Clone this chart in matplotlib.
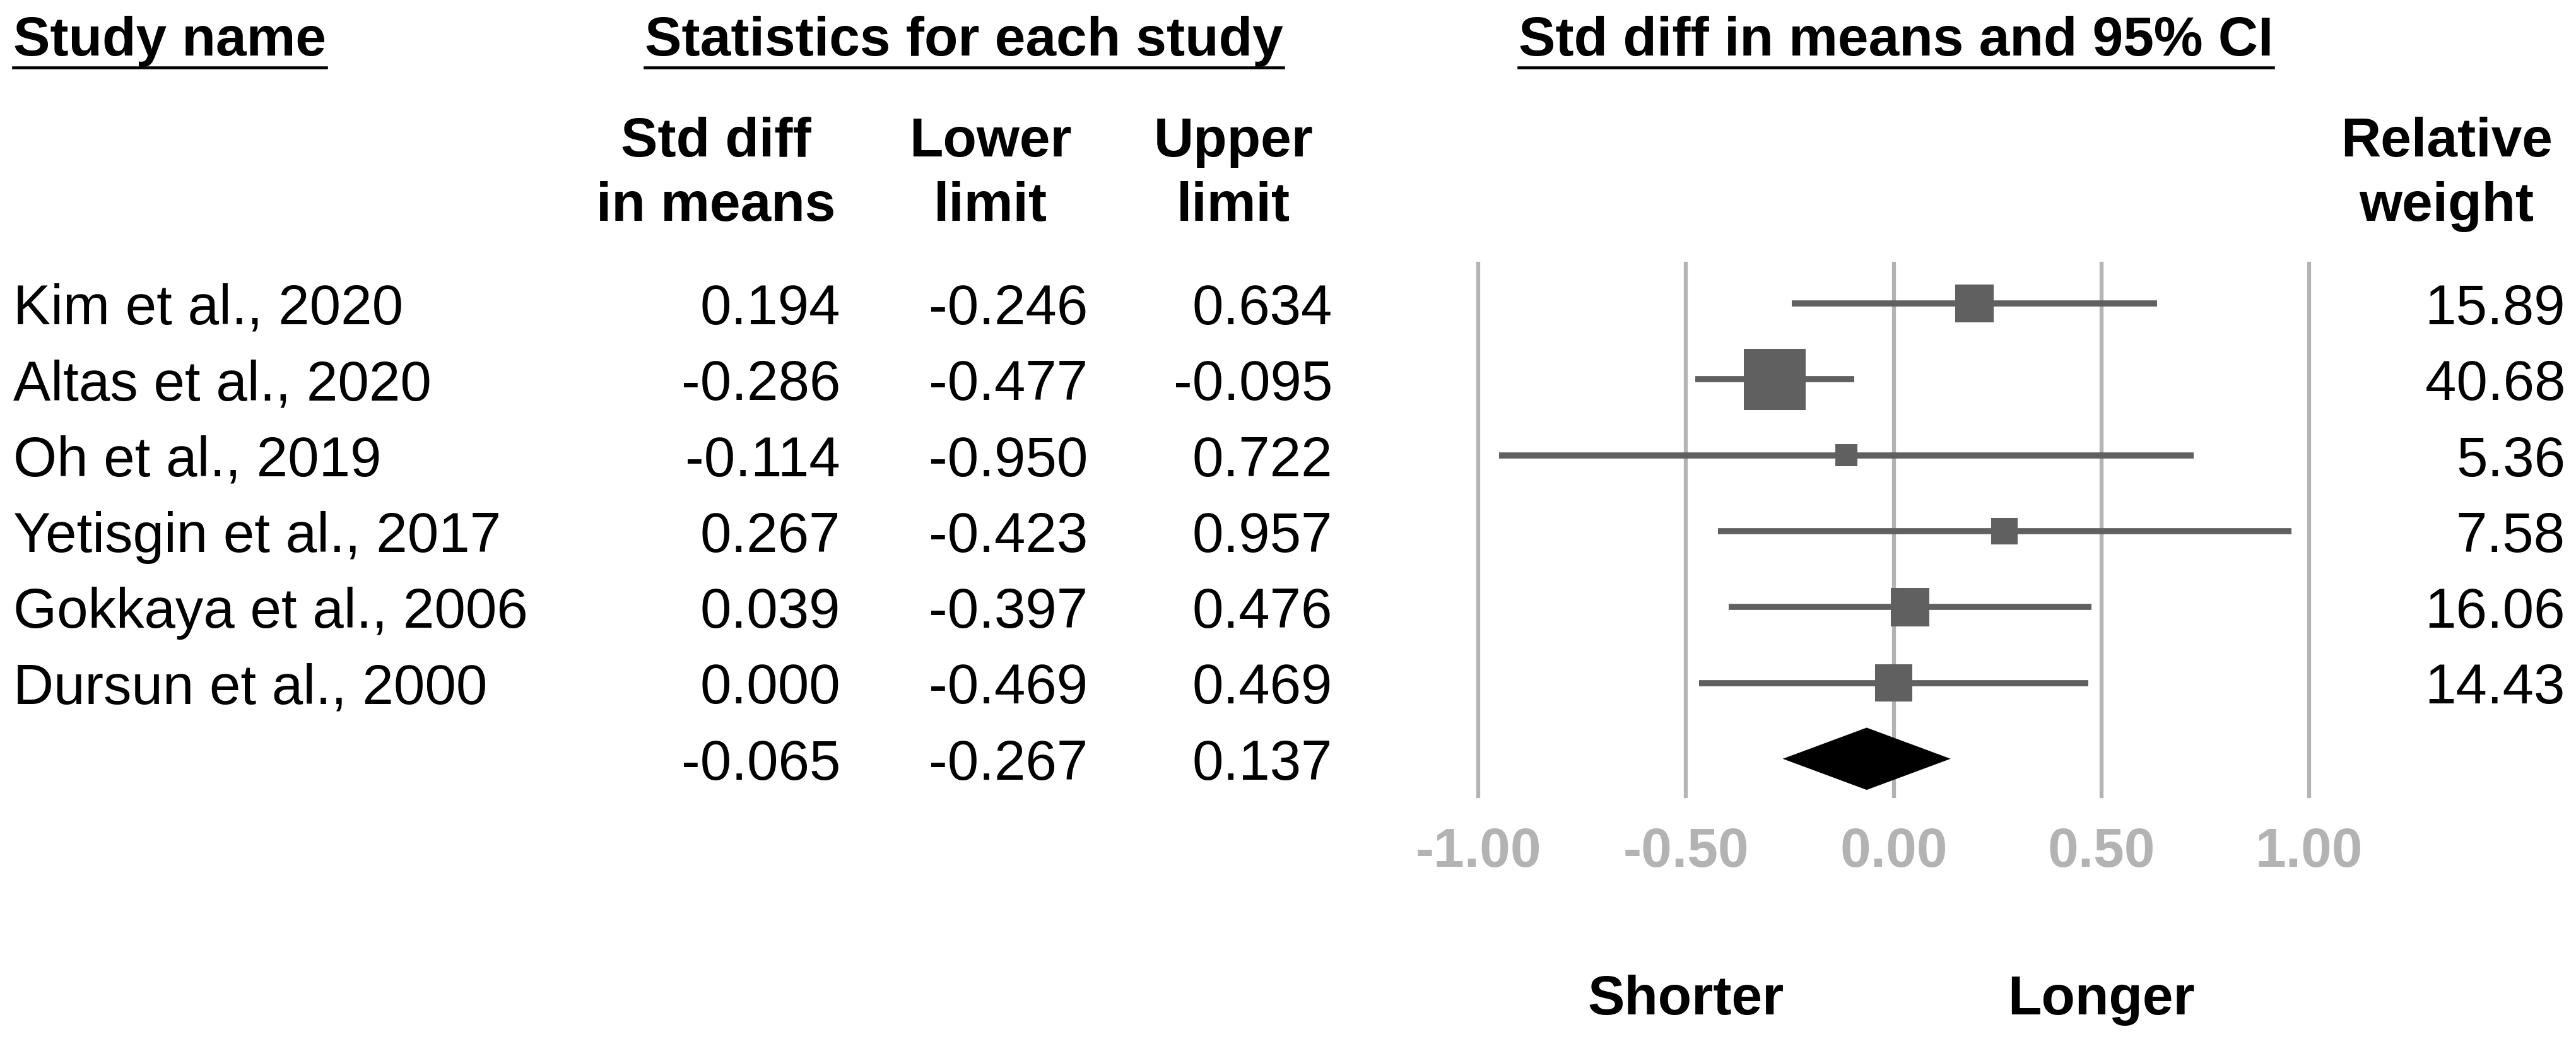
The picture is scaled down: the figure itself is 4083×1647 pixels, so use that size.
import matplotlib
matplotlib.use("Agg")
import matplotlib.pyplot as plt
import matplotlib.transforms as mtransforms
from matplotlib.lines import Line2D

# data
studies = ["Kim et al., 2020", "Altas et al., 2020", "Oh et al., 2019",
           "Yetisgin et al., 2017", "Gokkaya et al., 2006", "Dursun et al., 2000"]
std_diff = [0.194, -0.286, -0.114, 0.267, 0.039, 0.000]
lower = [-0.246, -0.477, -0.950, -0.423, -0.397, -0.469]
upper = [0.634, -0.095, 0.722, 0.957, 0.476, 0.469]
weights = [15.89, 40.68, 5.36, 7.58, 16.06, 14.43]
pooled_es, pooled_lo, pooled_hi = -0.065, -0.267, 0.137
ticks = [-1.0, -0.5, 0.0, 0.5, 1.0]

W, H = 4083, 1647
DPI = 100
plt.rcParams['font.family'] = ['Liberation Sans', 'DejaVu Sans']
FS = 64
FSB = 63
MARK = '#606060'
GRID = '#b3b3b3'

fig = plt.figure(figsize=(W / DPI, H / DPI), dpi=DPI)


def fx(px):
    return px / W


def fy(py):
    return 1 - py / H


# forest panel
x0, x1 = 2343, 3660
top, bot = 418, 1262
row0, step = 481, 120.3
ax = fig.add_axes([fx(x0), fy(bot), (x1 - x0) / W, (bot - top) / H])
ax.set_xlim(-1, 1)
ax.set_ylim((bot - row0) / step, (top - row0) / step)
for s in ax.spines.values():
    s.set_visible(False)
ax.set_yticks([])

for t in ticks:
    ax.axvline(t, color=GRID, lw=4.5, clip_on=False, zorder=1)

rows = list(range(len(studies)))
ax.hlines(rows, lower, upper, color=MARK, lw=7, zorder=2)
ax.scatter(std_diff, rows, s=[121 * w for w in weights], marker='s',
           color=MARK, linewidths=0, zorder=3, clip_on=False)

srow = len(studies)
h = 0.41
ax.fill([pooled_lo, pooled_es, pooled_hi, pooled_es],
        [srow, srow - h, srow, srow + h], color='black', lw=0,
        zorder=4, clip_on=False)

ax.set_xticks(ticks)
ax.set_xticklabels([f"{t:.2f}" for t in ticks])
ax.tick_params(axis='x', length=0, pad=35, labelsize=FSB, labelcolor=GRID)
for lbl in ax.get_xticklabels():
    lbl.set_fontweight('bold')

off = mtransforms.ScaledTranslation(0, -33 / DPI, fig.dpi_scale_trans)
tr = mtransforms.blended_transform_factory(fig.transFigure, ax.transData) + off

ax.text(-0.5, (1575 - row0) / step, "Shorter", transform=ax.transData + off,
        ha='center', va='baseline', fontsize=FSB, fontweight='bold')
ax.text(0.5, (1575 - row0) / step, "Longer", transform=ax.transData + off,
        ha='center', va='baseline', fontsize=FSB, fontweight='bold')

# table columns
for i, name in enumerate(studies):
    ax.text(fx(21), i, name, transform=tr, ha='left', va='baseline', fontsize=FS)
    ax.text(fx(4066), i, f"{weights[i]:.2f}", transform=tr, ha='right',
            va='baseline', fontsize=FS)

es_all = std_diff + [pooled_es]
lo_all = lower + [pooled_lo]
hi_all = upper + [pooled_hi]
for i in range(len(es_all)):
    ax.text(fx(1332), i, f"{es_all[i]:.3f}", transform=tr, ha='right', va='baseline', fontsize=FS)
    ax.text(fx(1724), i, f"{lo_all[i]:.3f}", transform=tr, ha='right', va='baseline', fontsize=FS)
    ax.text(fx(2112), i, f"{hi_all[i]:.3f}", transform=tr, ha='right', va='baseline', fontsize=FS)

# headers
heads = [
    fig.text(fx(21), fy(88), "Study name", ha='left', va='baseline',
             fontsize=FSB, fontweight='bold'),
    fig.text(fx(1528), fy(88), "Statistics for each study", ha='center', va='baseline',
             fontsize=FSB, fontweight='bold'),
    fig.text(fx(3005), fy(88), "Std diff in means and 95% CI", ha='center', va='baseline',
             fontsize=FSB, fontweight='bold'),
]
sub = [(1135, "Std diff", "in means"), (1570, "Lower", "limit"),
       (1955, "Upper", "limit"), (3878, "Relative", "weight")]
for cx, l1, l2 in sub:
    fig.text(fx(cx), fy(248), l1, ha='center', va='baseline', fontsize=FSB, fontweight='bold')
    fig.text(fx(cx), fy(350), l2, ha='center', va='baseline', fontsize=FSB, fontweight='bold')

fig.canvas.draw()
for t in heads:
    bb = t.get_window_extent()
    fig.add_artist(Line2D([bb.x0 / W, bb.x1 / W], [fy(107), fy(107)],
                          transform=fig.transFigure, color='black', lw=3.3))

fig.savefig('out.png', dpi=DPI)
